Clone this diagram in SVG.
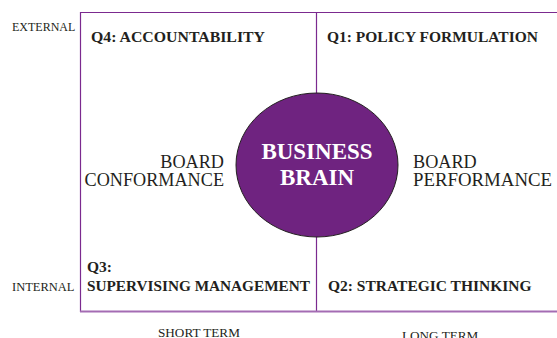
<svg xmlns="http://www.w3.org/2000/svg" width="557" height="338" viewBox="0 0 557 338">
  <style>
    text { font-family: "Liberation Serif", "Times New Roman", serif; fill: #231f20; }
    .q { font-weight: bold; font-size: 15.5px; }
    .axis { font-size: 12px; }
    .term { font-size: 13.2px; }
    .board { font-size: 18.2px; }
    .brain { font-weight: bold; font-size: 23px; fill: #ffffff; text-anchor: middle; }
    .line { stroke: #7b2a8f; stroke-width: 1.2; fill: none; }
    .base { stroke: #a46cb3; stroke-width: 2; fill: none; }
  </style>

  <!-- quadrant frame and dividers -->
  <g id="connectors">
    <line class="line" x1="80" y1="12.5" x2="557" y2="12.5"/>
    <line class="line" x1="80.5" y1="12" x2="80.5" y2="312"/>
    <line class="line" x1="316.5" y1="12.5" x2="316.5" y2="311"/>
    <line class="base" x1="80" y1="311.5" x2="557" y2="311.5"/>
  </g>

  <!-- axis labels -->
  <g id="axis-external"><text class="axis" x="12" y="31">EXTERNAL</text></g>
  <g id="axis-internal"><text class="axis" x="12" y="291" style="font-size:12.5px">INTERNAL</text></g>
  <g id="axis-short"><text class="term" x="158" y="337">SHORT TERM</text></g>
  <g id="axis-long"><text class="term" x="402" y="340">LONG TERM</text></g>

  <!-- quadrants -->
  <g id="q4"><text class="q" x="91" y="42" textLength="174" lengthAdjust="spacingAndGlyphs">Q4: ACCOUNTABILITY</text></g>
  <g id="q1"><text class="q" x="327" y="42">Q1: POLICY FORMULATION</text></g>
  <g id="q3">
    <text class="q" x="87" y="271.5">Q3:</text>
    <text class="q" x="87" y="291" textLength="223" lengthAdjust="spacingAndGlyphs">SUPERVISING MANAGEMENT</text>
  </g>
  <g id="q2"><text class="q" x="328" y="291">Q2: STRATEGIC THINKING</text></g>

  <!-- side captions -->
  <g id="board-conformance">
    <text class="board" x="224" y="168" text-anchor="end">BOARD</text>
    <text class="board" x="224" y="186" text-anchor="end">CONFORMANCE</text>
  </g>
  <g id="board-performance">
    <text class="board" x="413" y="168">BOARD</text>
    <text class="board" x="413" y="186" textLength="139" lengthAdjust="spacingAndGlyphs">PERFORMANCE</text>
  </g>

  <!-- central node -->
  <g id="business-brain">
    <ellipse cx="317" cy="165" rx="81" ry="72" fill="#6f2380" stroke="#231f20" stroke-width="1"/>
    <text class="brain" x="317" y="158.5">BUSINESS</text>
    <text class="brain" x="317" y="185">BRAIN</text>
  </g>
</svg>
